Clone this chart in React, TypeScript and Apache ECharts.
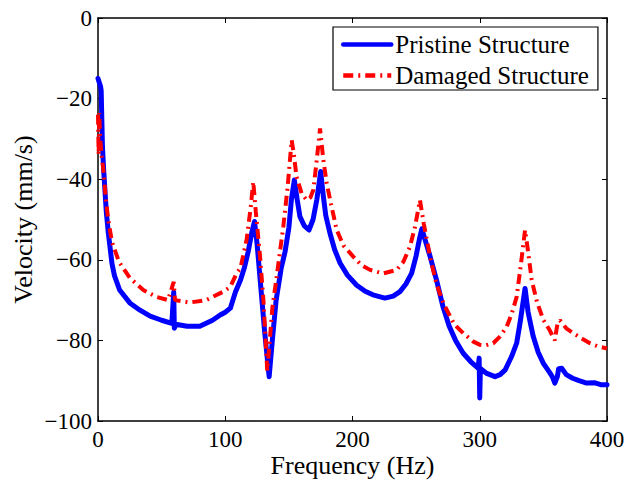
import React, { useEffect, useRef } from "react";
import * as echarts from "echarts";

const xTicks = [0, 100, 200, 300, 400];
const yTicks = [-100, -80, -60, -40, -20, 0];

const pristineFreq = [
  0, 1, 2, 2.5, 3, 3.5, 4.5, 5.5, 6.5, 8, 9.5, 11, 13, 17, 25, 33, 41, 50, 58, 59.5, 60, 61, 70, 80, 90, 96, 100, 104,
  108, 112, 115, 118, 121, 123, 125, 128, 131, 134.5, 137, 140, 144, 147, 150, 152, 154.3, 156.5, 158.7, 162, 165.8,
  169, 172, 175, 177, 179, 182.3, 186, 190.2, 196, 203.3, 210, 216, 225.5, 232, 237.3, 242, 246.5, 250, 252.5, 254.5,
  257, 261, 266, 271, 276, 281, 287, 293, 298.7, 299.5, 300, 300.5, 305.5, 312, 316, 320, 325, 329, 332, 335.6, 338,
  342, 346, 350, 355, 357, 359, 361, 362, 364.4, 368, 373, 378, 384, 390, 395, 400,
];
const pristineVel = [
  -15, -16, -17, -18, -25, -32, -38, -43, -48, -53, -57, -61, -64, -67.5, -70.7, -72.5, -74, -75, -75.8, -68, -77, -76,
  -76.5, -76.5, -75, -73.7, -73, -72, -68, -65, -62, -58, -53, -50.5, -56, -67, -78, -89, -80, -70, -62, -58, -52, -45,
  -40.2, -45, -49.3, -51.5, -52.6, -50, -45, -38.1, -44, -49, -53.4, -57.5, -60.8, -63.8, -66.3, -67.8, -68.7, -69.5,
  -69, -67.9, -66, -63.3, -59, -55, -52.3, -55, -59.2, -65, -71.5, -76.5, -80, -83.2, -85.3, -86.9, -84.4, -94.3, -87,
  -88.2, -89, -88.5, -87.3, -84, -80.7, -75, -67.1, -73, -79, -83, -85.7, -88, -89, -90.6, -89, -87, -86.9, -88.5,
  -89.4, -90, -90.6, -90.5, -91, -91,
];

const damagedFreq = [
  0, 0.5, 1, 1.5, 2, 3, 4.5, 6, 8, 11, 16.5, 25, 35.6, 46, 55, 59.5, 60.5, 72, 85, 98.5, 104, 109, 112, 116.8, 120, 122,
  124, 127.3, 130, 133, 135, 137, 140.4, 145.6, 149, 152.2, 154, 156, 160, 164, 167, 169.2, 172, 174.5, 177, 179.7,
  183, 187.6, 193, 200.6, 207, 213.8, 224, 234.7, 240, 245.2, 249, 253, 256, 260.9, 266, 271.4, 280, 287, 295, 300.2,
  305, 310.6, 316, 321.2, 325, 329, 332, 335.6, 338, 340.8, 345, 350, 355, 359, 361, 363, 368, 373.5, 380, 386.6, 393,
  400,
];
const damagedVel = [
  -24, -34, -23.6, -28.3, -31, -34.5, -38.5, -44.4, -50, -55.6, -60.5, -64.5, -67.5, -69.2, -70, -65.5, -70, -70.6,
  -70, -67.9, -66.7, -63.3, -62, -55, -47, -40.6, -48, -59, -70, -87.5, -80, -72, -64.2, -51.8, -42, -30.3, -34, -39.4,
  -43.5, -45.2, -44.5, -42.7, -35, -27.4, -35, -41, -46, -52.6, -56.5, -59.2, -61.3, -62.5, -63.4, -62.5, -60.5, -56.7,
  -52, -45.2, -51, -59.2, -66, -70.8, -76, -78.2, -80.3, -81.1, -81.2, -80.7, -79, -76.6, -73.5, -69.2, -62, -52.6,
  -58, -65, -70.5, -74.9, -77.5, -80, -76, -75, -77, -78.2, -79.5, -80.7, -81.5, -82,
];

const seriesNames = ["Pristine Structure", "Damaged Structure"];
const xTitle = "Frequency (Hz)";
const yTitle = "Velocity (mm/s)";

const FONT = "'Liberation Serif', 'Times New Roman', serif";

export default function App() {
  const ref = useRef<HTMLDivElement>(null);
  useEffect(() => {
    if (!ref.current) return;
    document.body.style.margin = "0";
    document.documentElement.style.overflow = "hidden";
    const chart = echarts.init(ref.current, undefined, { renderer: "svg" });
    const fmt = (v: number) => String(v).replace("-", "\u2212");
    const axisCommon = {
      axisLine: { show: true, onZero: false, lineStyle: { color: "#000", width: 1.5 } },
      axisTick: { show: true, inside: true, length: 5, lineStyle: { color: "#000", width: 1 } },
      splitLine: { show: false },
    };
    chart.setOption({
      animation: false,
      backgroundColor: "#fff",
      textStyle: { fontFamily: FONT },
      grid: { left: 98, top: 18, right: 20, bottom: 59, containLabel: false, outerBoundsMode: "none" },
      legend: {
        data: seriesNames,
        orient: "vertical",
        left: 333,
        top: 27,
        padding: [5, 9, 2, 8],
        itemGap: 6,
        itemWidth: 48,
        itemHeight: 10,
        borderColor: "#000",
        borderWidth: 1.2,
        borderRadius: 0,
        backgroundColor: "#fff",
        itemStyle: { opacity: 0 },
        lineStyle: { width: 4.5 },
        textStyle: { fontFamily: FONT, fontSize: 25, color: "#000", padding: [0, 0, 0, -1] },
      },
      xAxis: [
        {
          type: "value",
          min: 0,
          max: 400,
          interval: 100,
          position: "bottom",
          ...axisCommon,
          axisLabel: { color: "#000", fontFamily: FONT, fontSize: 23, margin: 7 },
          name: xTitle,
          nameLocation: "middle",
          nameGap: 31,
          nameMoveOverlap: false,
          nameTextStyle: { color: "#000", fontFamily: FONT, fontSize: 26, lineHeight: 26 },
        },
        {
          type: "value",
          min: 0,
          max: 400,
          interval: 100,
          position: "top",
          ...axisCommon,
          axisLabel: { show: false },
        },
      ],
      yAxis: [
        {
          type: "value",
          min: -100,
          max: 0,
          interval: 20,
          position: "left",
          ...axisCommon,
          axisLabel: { color: "#000", fontFamily: FONT, fontSize: 23, margin: 6, formatter: fmt },
          name: yTitle,
          nameLocation: "middle",
          nameGap: 62,
          nameMoveOverlap: false,
          nameTextStyle: { color: "#000", fontFamily: FONT, fontSize: 26, lineHeight: 26 },
        },
        {
          type: "value",
          min: -100,
          max: 0,
          interval: 20,
          position: "right",
          ...axisCommon,
          axisLabel: { show: false },
        },
      ],
      series: [
        {
          name: seriesNames[0],
          type: "line",
          xAxisIndex: 0,
          yAxisIndex: 0,
          data: pristineFreq.map((f, i) => [f, pristineVel[i]]),
          showSymbol: false,
          symbol: "none",
          lineStyle: { color: "#0000ff", width: 5, join: "round", cap: "round" },
          itemStyle: { color: "#0000ff" },
        },
        {
          name: seriesNames[1],
          type: "line",
          xAxisIndex: 0,
          yAxisIndex: 0,
          data: damagedFreq.map((f, i) => [f, damagedVel[i]]),
          showSymbol: false,
          symbol: "none",
          lineStyle: { color: "#ff0000", width: 4, type: [10, 5, 2, 5] },
          itemStyle: { color: "#ff0000" },
        },
      ],
    });
    return () => chart.dispose();
  }, []);
  return (
    <div style={{ width: 627, height: 480, overflow: "hidden", position: "absolute", left: 0, top: 0 }}>
      <div ref={ref} style={{ width: 627, height: 480 }} />
    </div>
  );
}
